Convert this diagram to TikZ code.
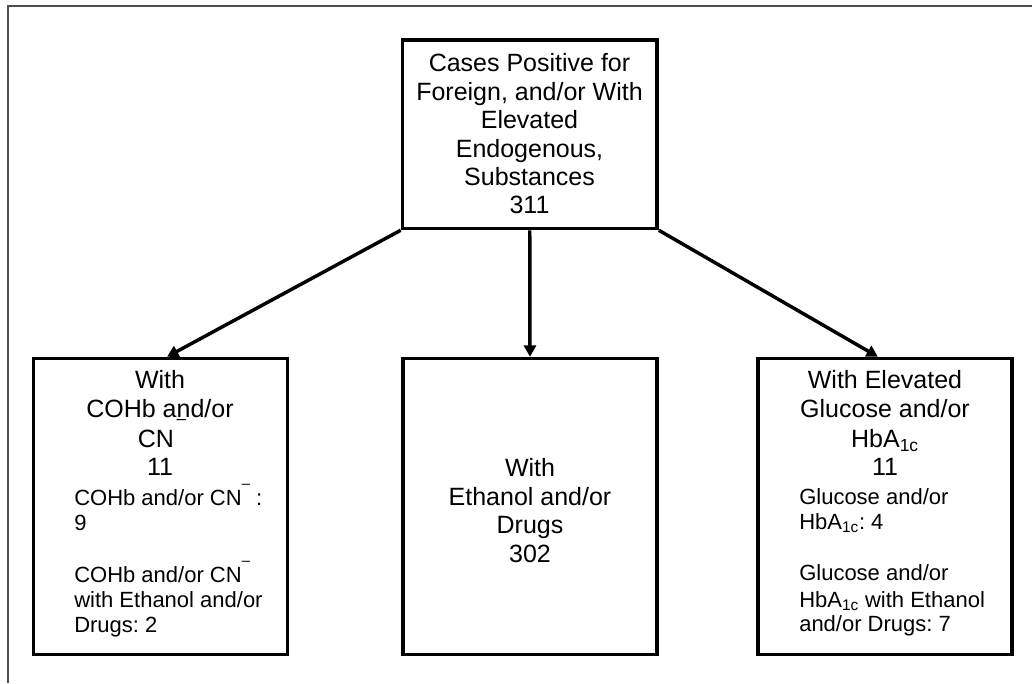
\documentclass[tikz,border=0pt]{standalone}
\usepackage{fontspec}
\setmainfont{Liberation Sans}
\usetikzlibrary{arrows.meta}
\frenchspacing
\newcommand{\supdash}{\raisebox{12.6pt}{\fontsize{11}{11}\selectfont –}}
\newcommand{\lowdash}{\rlap{\raisebox{-5.9pt}{\fontsize{13}{13}\selectfont –}}}
\begin{document}
\begin{tikzpicture}[x=0.75pt,y=-0.75pt,
  box/.style={draw, line width=2.6pt, inner sep=0pt},
  arr/.style={line width=2.6pt, -{Triangle[length=8.5pt,width=9pt]}},
  frame/.style={draw=black!70, line width=1.1pt},
  ttl/.style={font=\fontsize{18.75}{22}\selectfont, inner sep=0pt, anchor=base},
  det/.style={font=\fontsize{16.5}{20}\selectfont, inner sep=0pt, anchor=base west}]
\useasboundingbox (0,0) rectangle (1032,683);
\draw[frame] (8,683) -- (8,6) -- (1032,6);

% boxes
\node[box, minimum width=191pt, minimum height=141.4pt] (top) at (529.75,134.25) {};
\node[box, minimum width=190.5pt, minimum height=222pt] (left) at (160.5,506.5) {};
\node[box, minimum width=190.5pt, minimum height=222pt] (mid) at (530,506.5) {};
\node[box, minimum width=190.5pt, minimum height=222pt] (right) at (885,506.5) {};

% arrows
\draw[arr] (top.south west) -- ([xshift=4.9pt]left.north);
\draw[arr] (top.south) -- (mid.north);
\draw[arr] (top.south east) -- ([xshift=-5.3pt]right.north);

% top text
\node[ttl] (t1) at (529.5,71) {Cases Positive for};
\node[ttl] (t2) at (529.5,100) {Foreign, and/or With};
\node[ttl] (t3) at (529.5,128) {Elevated};
\node[ttl] (t4) at (529.5,157) {Endogenous,};
\node[ttl] (t5) at (529.5,185) {Substances};
\node[ttl] (t6) at (529.5,213) {311};

% left text
\node[ttl] (l1) at (160,388) {With};
\node[ttl] (l2) at (160,417) {COHb a\lowdash nd/or};
\node[ttl] (l3) at (156,447) {CN};
\node[ttl] (l4) at (160,475) {11};
\node[det] (l5) at (74,505) {COHb and/or CN\supdash\ :};
\node[det] (l6) at (74,530) {9};
\node[det] (l7) at (74,582) {COHb and/or CN\supdash};
\node[det] (l8) at (74,607) {with Ethanol and/or};
\node[det] (l9) at (74,632) {Drugs: 2};

% middle text
\node[ttl] (m1) at (530,476) {With};
\node[ttl] (m2) at (530,505) {Ethanol and/or};
\node[ttl] (m3) at (530,533) {Drugs};
\node[ttl] (m4) at (530,562) {302};

% right text
\node[ttl] (r1) at (885,388) {With Elevated};
\node[ttl] (r2) at (885,417) {Glucose and/or};
\node[ttl] (r3) at (885,447) {HbA\textsubscript{1c}};
\node[ttl] (r4) at (885,475) {11};
\node[det] (r5) at (799,504) {Glucose and/or};
\node[det] (r6) at (799,529) {HbA\textsubscript{1c}: 4};
\node[det] (r7) at (799,580) {Glucose and/or};
\node[det] (r8) at (799,607) {HbA\textsubscript{1c} with Ethanol};
\node[det] (r9) at (799,631) {and/or Drugs: 7};
\end{tikzpicture}
\end{document}
